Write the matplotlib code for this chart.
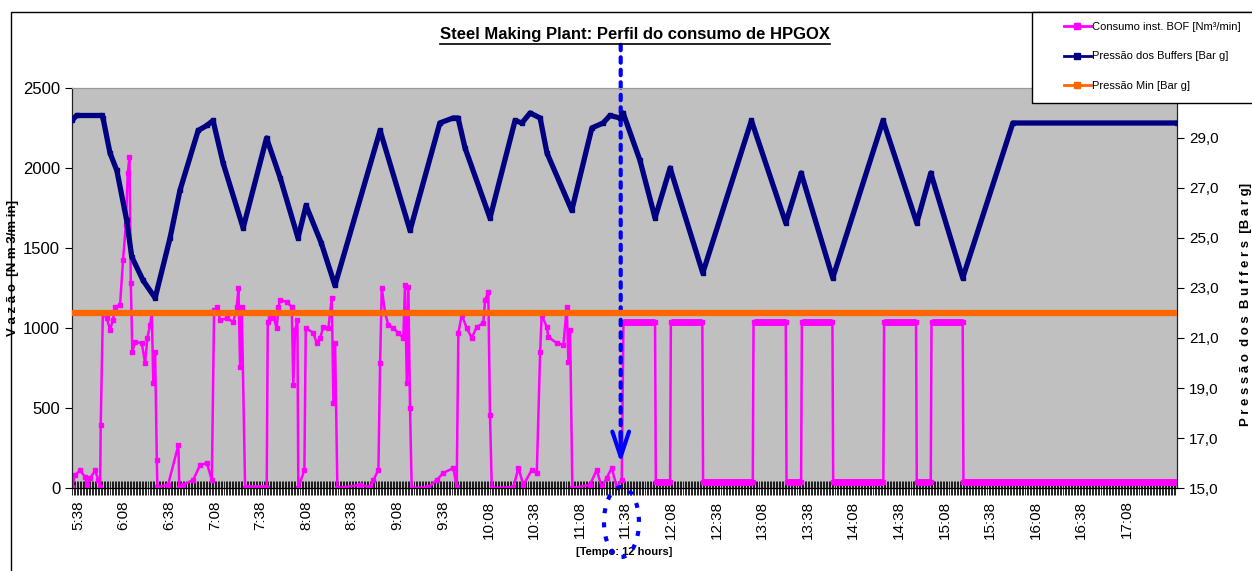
import matplotlib.pyplot as plt
import numpy as np
from matplotlib.patches import Ellipse, Rectangle
from matplotlib.lines import Line2D
import matplotlib.transforms as mtransforms

plt.rcParams['font.family'] = ['Liberation Sans', 'DejaVu Sans']

# time in minutes after 5:38
press_t = [-4, -1, 15.6, 16.4, 21, 25.5, 32, 35.3, 42.8, 50.7, 60.5, 67, 79, 84.7, 88.8,
           95.4, 108.6, 124, 133, 144.7, 150, 160, 169, 198.7, 218.4, 238, 246.7, 250,
           254.6, 271, 287.5, 292, 297.4, 304, 308.5, 324.8, 338, 345.4, 350, 356.6,
           358.6, 369.7, 379.6, 389.5, 411, 443, 465.6, 475.7, 496.5, 529.6, 551.8,
           561, 582, 615, 723]
press_bar = [29.7, 29.9, 29.9, 29.8, 28.4, 27.7, 25.7, 24.25, 23.3, 22.6, 25.0, 26.9, 29.3,
             29.5, 29.7, 28.0, 25.4, 29.0, 27.4, 25.0, 26.3, 24.8, 23.1, 29.3, 25.3, 29.6,
             29.8, 29.8, 28.6, 25.8, 29.7, 29.6, 30.0, 29.8, 28.4, 26.1, 29.4, 29.6, 29.9,
             29.8, 30.0, 28.1, 25.8, 27.8, 23.6, 29.7, 25.6, 27.6, 23.4, 29.7, 25.6, 27.6,
             23.4, 29.6, 29.6]

bof_t = [-4, -2, 1.3, 4.6, 5.7, 7.9, 11.2, 13.4, 14.5, 14.9, 16.3, 18.9, 21, 23, 24.3,
         27.6, 29.6, 31.4, 32.7, 33.8, 34.7, 35.7, 37.5, 41.9, 44.1, 45.6, 47.4, 48.5,
         49.5, 50.7, 51.8, 52.2, 59.2, 66, 66.6, 69, 75.7, 80.3, 84.7, 88, 89.5, 91.3,
         93.4, 97.8, 102.2, 104.4, 105.5, 106.6, 107.7, 109.9, 124.1, 124.8, 126.3,
         128.5, 130.7, 131.8, 132.9, 137.3, 140.6, 141.6, 142.8, 144.3, 144.9, 148.9,
         149.8, 154.8, 157, 159.2, 161.4, 164.7, 166.9, 168, 169.1, 170.6, 185.5, 192,
         194.3, 197.6, 198.7, 199.8, 202, 204.1, 207.4, 210.7, 214, 215.1, 216.3, 217.3,
         218.4, 219.5, 230.5, 236, 240.3, 246.9, 249.1, 250.2, 252.4, 255.7, 259, 262.3,
         266.6, 267.8, 269.9, 271, 272.2, 286.4, 289.7, 293, 298.5, 301.8, 304, 305,
         308.4, 309.4, 314.9, 319.3, 321.5, 322.6, 323.7, 325.2, 336.8, 341.2, 344.5,
         347.8, 351.1, 354.4, 357.7, 358.8,
         379.6, 380.1, 389.5, 390.0, 410.7, 411.2, 443.9, 444.4, 465.6, 466.1, 475.7,
         476.2, 496.3, 496.8, 529.8, 530.3, 551.3, 551.8, 561.0, 561.5, 582.0, 582.5, 723]
bof_flow = [8, 80, 110, 70, 20, 60, 110, 50, 5, 394, 1094, 1060, 990, 1050, 1130,
            1144, 1425, 1644, 1969, 2069, 1281, 850, 913, 906, 781, 938, 1019, 1094,
            656, 850, 175, 6, 20, 269, 0, 19, 50, 144, 156, 50, 1112, 1131,
            1050, 1060, 1038, 1131, 1250, 756, 1131, 0, 0, 1038, 1069,
            1069, 1000, 1131, 1175, 1163, 1131, 644, 988, 1050, 0, 113,
            1000, 969, 906, 938, 1006, 1000, 1188, 531, 906, 0, 19, 6,
            50, 113, 781, 1250, 1094, 1019, 1000, 969, 938, 1269, 656, 1256,
            500, 0, 6, 50, 94, 125, 6, 969, 1081, 1000, 938, 1006,
            1031, 1175, 1225, 456, 0, 6, 125, 19, 113, 94, 850, 1081,
            1006, 944, 906, 894, 1131, 788, 988, 0, 19, 113, 6,
            63, 125, 6, 50, 1035,
            1035, 40, 40, 1035, 1035, 40, 40, 1035, 1035, 40, 40,
            1035, 1035, 40, 40, 1035, 1035, 40, 40, 1035, 1035, 40, 40]

p_min = 22.0
event_t = 357  # 11:35, start of the new profile

fig = plt.figure(figsize=(12.52, 5.71), dpi=100)
ax = fig.add_axes([72 / 1252, 83 / 571, 1105 / 1252, 400 / 571])
ax.set_facecolor('#C0C0C0')
ax2 = ax.twinx()

ax.plot(bof_t, bof_flow, color='#FF00FF', lw=1.8, marker='s', ms=3, zorder=3)
# plateaus look thick because of the dense markers
bt = np.array(bof_t)
bf = np.array(bof_flow)
for i in np.where(np.diff(bf) == 0)[0]:
    ax.plot(bt[i:i + 2], bf[i:i + 2], color='#FF00FF', lw=5, solid_capstyle='butt', zorder=3)

ax2.plot(press_t, press_bar, color='#000080', lw=3.8, marker='s', ms=3.5, zorder=3)
ax2.axhline(p_min, color='#FF6600', lw=4.5, zorder=4)

ax.set_xlim(-4, 723)
ax.set_ylim(0, 2500)
ax2.set_ylim(15, 31)
ax.set_yticks(np.arange(0, 2501, 500))
ax2.set_yticks(np.arange(15, 30, 2))
ax2.set_yticklabels([f"{v:.1f}".replace('.', ',') for v in np.arange(15, 30, 2)])

xt = np.arange(0, 691, 30)
ax.set_xticks(xt)
ax.set_xticklabels([f"{(338 + m) // 60}:{(338 + m) % 60:02d}" for m in xt], rotation=90, fontsize=11)
ax.set_xticks(np.arange(-4, 723, 1), minor=True)
ax.tick_params(axis='x', which='both', direction='inout', length=10, width=0.6, color='black', pad=4)
ax.tick_params(axis='y', labelsize=12, length=5, color='black')
ax2.tick_params(axis='y', labelsize=11, length=5, color='black')

for a in (ax, ax2):
    a.spines['top'].set_color('#999999')
    a.spines['left'].set_color('#222222')
    a.spines['right'].set_color('#222222')
    a.spines['bottom'].set_color('black')

ax.set_ylabel("V a z ã o  [N m 3/m in]", fontsize=9.5, fontweight='bold')
ax.yaxis.set_label_coords(-0.048, 0.55)
ax2.set_ylabel("P r e s s ã o  d o s  B u f f e r s  [B a r g]", fontsize=9.5, fontweight='bold')
ax2.yaxis.set_label_coords(1.057, 0.46)
ax.set_xlabel("[Tempo: 12 hours]", fontsize=8, fontweight='bold', labelpad=6)

# annotation: dotted arrow and circled time label
ax.annotate('', xy=(event_t, 0.075), xycoords=('data', 'axes fraction'),
            xytext=(event_t, 1.115), textcoords=('data', 'axes fraction'),
            arrowprops=dict(arrowstyle='-', linestyle=(0, (1.3, 1.7)), lw=3, color='#0000FF'),
            annotation_clip=False, zorder=6)
ax.annotate('', xy=(event_t, 0.062), xycoords=('data', 'axes fraction'),
            xytext=(event_t, 0.14), textcoords=('data', 'axes fraction'),
            arrowprops=dict(arrowstyle='->,head_length=0.9,head_width=0.3', lw=3,
                            color='#0000FF', mutation_scale=20, shrinkA=0, shrinkB=0),
            annotation_clip=False, zorder=6)
trans = mtransforms.blended_transform_factory(ax.transData, ax.transAxes)
ax.add_patch(Ellipse((event_t + 0.5, -0.085), 23, 0.175, transform=trans, fill=False,
                     edgecolor='#0000FF', lw=3, linestyle=(0, (1.2, 2.2)), clip_on=False, zorder=6))

# legend (frame drawn separately, it runs off the right edge)
handles = [Line2D([], [], color='#FF00FF', lw=2, marker='s', ms=4),
           Line2D([], [], color='#000080', lw=2, marker='s', ms=4),
           Line2D([], [], color='#FF6600', lw=2, marker='s', ms=4)]
labels = ["Consumo inst. BOF [Nm³/min]", "Pressão dos Buffers [Bar g]", "Pressão Min [Bar g]"]
leg = fig.legend(handles, labels, loc='upper left', bbox_to_anchor=(1064 / 1252, 1 - 22 / 571),
                 fontsize=8, numpoints=1, handlelength=2.4, handletextpad=0.15,
                 labelspacing=1.75, borderpad=0, frameon=False, borderaxespad=0)
leg.set_zorder(10)
fig.add_artist(Rectangle((1032 / 1252, 1 - 103 / 571), 0.3, 91 / 571, transform=fig.transFigure,
                         facecolor='white', edgecolor='black', lw=1, zorder=9))

# outer chart border
fig.add_artist(Rectangle((11 / 1252, -0.1), 1.2, 1.1 - 12 / 571, transform=fig.transFigure,
                         fill=False, edgecolor='black', lw=1, zorder=0))

title = fig.text(635 / 1252, 1 - 35 / 571, "Steel Making Plant: Perfil do consumo de HPGOX",
                 ha='center', va='center', fontsize=12, fontweight='bold')
fig.canvas.draw()
bb = title.get_window_extent().transformed(fig.transFigure.inverted())
fig.add_artist(Line2D([bb.x0, bb.x1], [bb.y0 - 0.002, bb.y0 - 0.002], transform=fig.transFigure,
                      color='black', lw=1.2))

fig.savefig("out.png", dpi=100)
